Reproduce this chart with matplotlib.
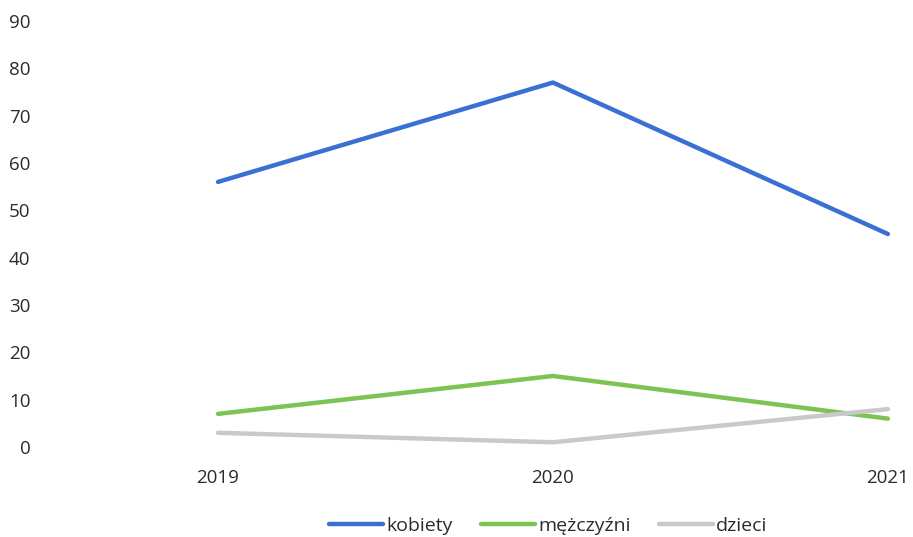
import matplotlib
matplotlib.use("Agg")
import matplotlib.pyplot as plt

years = ["2019", "2020", "2021"]
kobiety = [56, 77, 45]
mezczyzni = [7, 15, 6]
dzieci = [3, 1, 8]
series_names = ["kobiety", "mężczyźni", "dzieci"]
colors = ["#3a70d4", "#7cc354", "#c9c9cc"]

plt.rcParams['font.family'] = ['Open Sans', 'DejaVu Sans']

W, H = 913, 537
fig = plt.figure(figsize=(W / 100, H / 100), dpi=100)
left_px, right_px = 50, 913
top_px, bottom_px = 21, 447
ax = fig.add_axes([left_px / W, (H - bottom_px) / H,
                   (right_px - left_px) / W, (bottom_px - top_px) / H])

x = list(range(len(years)))
for vals, name, c in zip([kobiety, mezczyzni, dzieci], series_names, colors):
    ax.plot(x, vals, color=c, lw=3.2, label=name, solid_capstyle='round')

ax.set_xlim(-0.5015, 2.075)
ax.set_ylim(0, 90)
ax.set_yticks(range(0, 91, 10))
ax.set_xticks(x)
ax.set_xticklabels(years)
for s in ax.spines.values():
    s.set_visible(False)
ax.tick_params(axis='both', length=0, labelsize=13.5, colors="#2b2b2b")
ax.tick_params(axis='y', pad=14)
ax.tick_params(axis='x', pad=16)

leg = fig.legend(loc='center', bbox_to_anchor=(548 / W, 1 - 526 / H), ncol=3,
                 frameon=False, fontsize=14, handlelength=2.8, handletextpad=0.15,
                 columnspacing=1.45, labelcolor="#2b2b2b")
for l in leg.get_lines():
    l.set_linewidth(3.2)

fig.savefig("out.png", dpi=100)
